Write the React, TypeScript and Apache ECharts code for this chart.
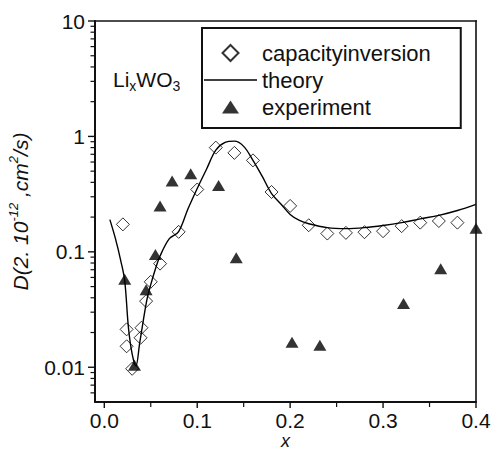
import React, { useEffect, useRef } from "react";
import * as echarts from "echarts";

const capX = [0.020, 0.024, 0.024, 0.030, 0.039, 0.040, 0.045, 0.050, 0.060, 0.080, 0.100, 0.120, 0.140, 0.160, 0.180, 0.200, 0.220, 0.240, 0.260, 0.280, 0.300, 0.320, 0.340, 0.360, 0.380];
const capY = [0.173, 0.0213, 0.0152, 0.0097, 0.018, 0.022, 0.0374, 0.055, 0.079, 0.149, 0.347, 0.80, 0.72, 0.62, 0.33, 0.25, 0.17, 0.144, 0.146, 0.148, 0.151, 0.167, 0.179, 0.185, 0.179];

const expX = [0.022, 0.0325, 0.045, 0.055, 0.060, 0.073, 0.093, 0.123, 0.142, 0.202, 0.232, 0.322, 0.362, 0.400];
const expY = [0.058, 0.0104, 0.047, 0.095, 0.25, 0.41, 0.475, 0.376, 0.089, 0.0165, 0.0155, 0.0357, 0.0715, 0.16];

const theoX = [0.006, 0.012, 0.018, 0.022, 0.026, 0.030, 0.034, 0.038, 0.042, 0.046, 0.050, 0.055, 0.060, 0.070, 0.080, 0.090, 0.100, 0.110, 0.120, 0.130, 0.140, 0.150, 0.160, 0.170, 0.180, 0.190, 0.200, 0.210, 0.220, 0.240, 0.260, 0.280, 0.300, 0.320, 0.340, 0.360, 0.380, 0.400];
const theoY = [0.19, 0.13, 0.082, 0.056, 0.022, 0.013, 0.0103, 0.016, 0.0255, 0.039, 0.052, 0.071, 0.092, 0.13, 0.15, 0.235, 0.354, 0.52, 0.76, 0.887, 0.91, 0.82, 0.62, 0.45, 0.32, 0.26, 0.211, 0.187, 0.175, 0.162, 0.159, 0.162, 0.169, 0.179, 0.193, 0.207, 0.228, 0.258];

const X_MIN = -0.01;
const X_MAX = 0.4;
const Y_MIN = 0.005;
const Y_MAX = 10;

const xMajorTicks = [0, 0.1, 0.2, 0.3, 0.4];
const xMinorTicks = [0.05, 0.15, 0.25, 0.35];
const yMajorTicks = [0.01, 0.1, 1, 10];
const yMinorTicks = [
  0.006, 0.007, 0.008, 0.009,
  0.02, 0.03, 0.04, 0.05, 0.06, 0.07, 0.08, 0.09,
  0.2, 0.3, 0.4, 0.5, 0.6, 0.7, 0.8, 0.9,
  2, 3, 4, 5, 6, 7, 8, 9,
];

const seriesNames = ["capacityinversion", "theory", "experiment"];

const FONT = "Liberation Sans, Arial, Helvetica, sans-serif";
const INK = "#111111";

export default function App() {
  const ref = useRef<HTMLDivElement>(null);
  useEffect(() => {
    if (!ref.current) return;
    const chart = echarts.init(ref.current, undefined, { renderer: "svg" });
    const axisLine = { show: true, onZero: false, lineStyle: { color: INK, width: 2 } };
    chart.setOption({
      animation: false,
      backgroundColor: "#fff",
      textStyle: { fontFamily: FONT },
      grid: {
        left: 95, right: 16, top: 21, bottom: 48,
        outerBoundsMode: "none",
        containLabel: false,
        show: false,
      },
      legend: {
        orient: "vertical",
        left: 202,
        top: 28,
        itemWidth: 53,
        itemHeight: 16,
        itemGap: 5,
        padding: [14, 30, 10, 2],
        borderColor: INK,
        borderWidth: 2,
        selectedMode: false,
        textStyle: { fontSize: 22, color: INK, fontFamily: FONT },
        data: [
          { name: seriesNames[0], icon: "path://M8,0L16,8L8,16L0,8Z" },
          { name: seriesNames[1], icon: "path://M0,0L53,0L53,1.3L0,1.3Z" },
          { name: seriesNames[2], icon: "path://M0,0M8.5,1.5L17,14.5L0,14.5ZM17,16" },
        ],
      },
      xAxis: {
        type: "value", min: X_MIN, max: X_MAX,
        axisLine,
        axisTick: { show: false },
        axisLabel: {
          customValues: xMajorTicks,
          formatter: (v: number) => v.toFixed(1),
          fontSize: 21, color: INK, margin: 8, fontFamily: FONT,
        },
        splitLine: { show: false },
        name: "x", nameLocation: "middle", nameGap: 30, nameMoveOverlap: false,
        nameTextStyle: { fontStyle: "italic", fontSize: 18, color: INK, fontFamily: FONT, lineHeight: 18 },
      },
      yAxis: {
        type: "log", min: Y_MIN, max: Y_MAX,
        axisLine,
        axisTick: { show: false },
        axisLabel: {
          customValues: yMajorTicks,
          formatter: (v: number) => String(v),
          fontSize: 21, color: INK, margin: 10, fontFamily: FONT,
        },
        splitLine: { show: false },
        name: "D(2. 10{sup|-12} ,cm{sup|2}/s)",
        nameLocation: "middle",
        nameGap: 62,
        nameTextStyle: {
          fontStyle: "italic", fontSize: 21, color: INK, fontFamily: FONT, lineHeight: 26,
          rich: {
            sup: { fontStyle: "italic", fontSize: 13, color: INK, fontFamily: FONT, verticalAlign: "top", lineHeight: 13 },
          },
        },
      },
      series: [
        {
          name: seriesNames[0],
          type: "scatter",
          symbol: "diamond",
          symbolSize: 13,
          itemStyle: { color: "rgba(255,255,255,0)", borderColor: "#000", borderWidth: 1 },
          data: capX.map((x, i) => [x, capY[i]]),
          z: 3,
        },
        {
          name: seriesNames[1],
          type: "line",
          symbol: "none",
          showSymbol: false,
          smooth: 0.35,
          lineStyle: { color: "#000", width: 1.4 },
          itemStyle: { color: "#000" },
          data: theoX.map((x, i) => [x, theoY[i]]),
          z: 2,
        },
        {
          name: seriesNames[2],
          type: "scatter",
          symbol: "triangle",
          symbolSize: [13, 11],
          itemStyle: { color: "#000" },
          data: expX.map((x, i) => [x, expY[i]]),
          z: 4,
        },
      ],
    });

    const toPx = (x: number, y: number) =>
      chart.convertToPixel({ gridIndex: 0 }, [x, y]) as number[];
    const els: any[] = [];
    const addX = (values: number[], len: number, w: number) =>
      values.forEach((v) => {
        const p = toPx(v, Y_MIN);
        els.push({
          type: "rect", silent: true, z: 100,
          shape: { x: p[0] - w / 2, y: p[1], width: w, height: len },
          style: { fill: INK },
        });
      });
    const addY = (values: number[], len: number, w: number) =>
      values.forEach((v) => {
        const p = toPx(X_MIN, v);
        els.push({
          type: "rect", silent: true, z: 100,
          shape: { x: p[0] - len, y: p[1] - w / 2, width: len, height: w },
          style: { fill: INK },
        });
      });
    addX(xMajorTicks, 6, 1.4);
    addX(xMinorTicks, 5, 1.2);
    addY(yMajorTicks, 7, 1.4);
    addY(yMinorTicks, 4.5, 1.2);

    const tl = toPx(X_MIN, Y_MAX);
    const br = toPx(X_MAX, Y_MIN);
    const fw = 1.6;
    els.push(
      { type: "rect", silent: true, z: 100, shape: { x: tl[0] - 1, y: tl[1] - fw / 2, width: br[0] - tl[0] + 1 + fw / 2, height: fw }, style: { fill: INK } },
      { type: "rect", silent: true, z: 100, shape: { x: br[0] - fw / 2, y: tl[1] - fw / 2, width: fw, height: br[1] - tl[1] + fw / 2 }, style: { fill: INK } },
    );

    chart.setOption({
      graphic: [
        {
          type: "text",
          x: 113,
          y: 65,
          style: {
            text: "Li{sub|x}WO{sub|3}",
            fontSize: 21,
            fontFamily: FONT,
            fill: INK,
            lineHeight: 28,
            verticalAlign: "top",
            rich: {
              sub: { fontSize: 14, fontFamily: FONT, fill: INK, verticalAlign: "bottom", lineHeight: 14 },
            },
          },
        },
        ...els,
      ],
    });
    return () => chart.dispose();
  }, []);
  return <div ref={ref} style={{ width: 492, height: 450, position: "absolute", left: 0, top: 0 }} />;
}
